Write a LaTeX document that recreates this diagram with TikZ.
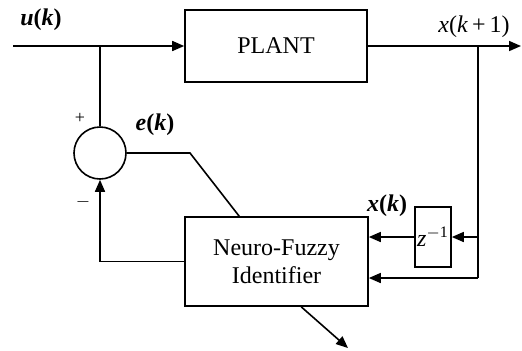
\documentclass[tikz,border=0pt]{standalone}
\usepackage{fontspec}
\setmainfont{Liberation Serif}
\usetikzlibrary{arrows.meta, positioning}

\begin{document}
\begin{tikzpicture}[x=0.5pt, y=-0.5pt, >={Triangle[length=6pt,width=5pt]}, font=\fontsize{12}{14}\selectfont]
    \tikzstyle{block} = [rectangle, draw=black, line width=0.8pt, align=center, inner sep=0pt]
    \tikzstyle{summer} = [circle, draw=black, line width=0.8pt, minimum size=26pt, inner sep=0pt]
    \tikzstyle{wire} = [line width=0.8pt]
    \tikzstyle{sig} = [inner sep=1pt]

    \useasboundingbox (0,0) rectangle (522,350);

    % Blocks
    \node (plant) [block, minimum width=91pt, minimum height=36pt] at (276,46) {PLANT};
    \node (nfi) [block, minimum width=91.5pt, minimum height=44.5pt] at (276.5,261.5) {Neuro-Fuzzy\\Identifier};
    \node (delay) [block, minimum width=18pt, minimum height=30pt] at (433,237) {\textit{z}\textsuperscript{$-$1}};
    \node (sum) [summer] at (100,153) {};

    % Branch points and free ends
    \coordinate (in) at (13,46);
    \coordinate (tap) at (100,46);
    \coordinate (out) at (521,46);
    \coordinate (fb) at (478,46);
    \coordinate (fbmid) at (478,237);
    \coordinate (fbbot) at (478,278);
    \coordinate (bend) at (190,153);
    \coordinate (est) at (348,348);

    % Signal labels
    \node (uk) [sig] at (41,20) {\textbf{\textit{u}(\textit{k})}};
    \node (xk1) [sig] at (474,27) {\textit{x}(\textit{k}\,+\,1)};
    \node (ek) [sig] at (155,125) {\textbf{\textit{e}(\textit{k})}};
    \node (xk) [sig] at (387,206) {\textbf{\textit{x}(\textit{k})}};
    \node (plus) [sig, font=\small] at (80,118) {+};
    \node (minus) [sig, font=\small] at (83,202) {$-$};

    % Connections
    \draw[->, wire] (in) -- (plant);
    \draw[->, wire] (plant) -- (out);
    \draw[wire] (tap) -- (sum.north);
    \draw[wire] (fb) -- (fbbot);
    \draw[->, wire] (fbmid) -- (delay.east);
    \draw[->, wire] (delay) -- (delay -| nfi.east);
    \draw[->, wire] (fbbot) -- (fbbot -| nfi.east);
    \draw[wire] (sum.east) -- (bend) -- ([xshift=27.5pt]nfi.north west);
    \draw[->, wire] (nfi.west) -| (sum.south);
    \draw[->, wire] ([xshift=58.5pt]nfi.south west) -- (est);
\end{tikzpicture}
\end{document}
